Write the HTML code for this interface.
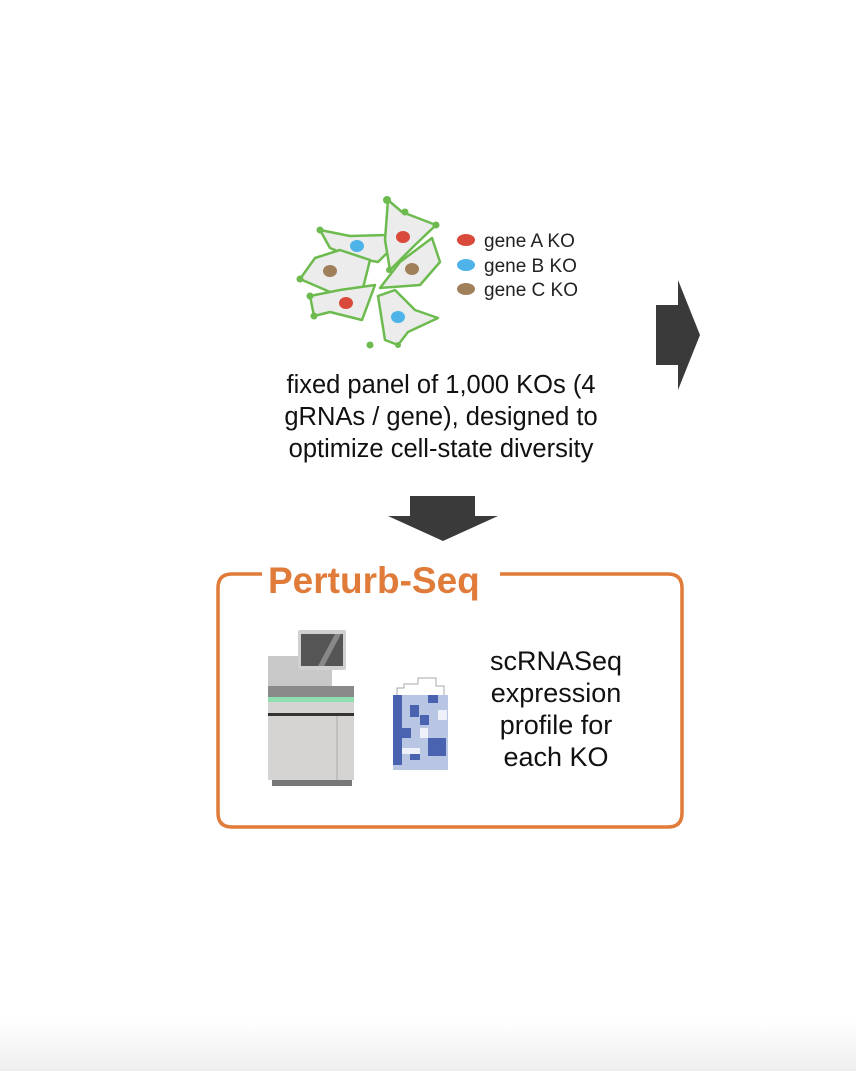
<!DOCTYPE html>
<html><head><meta charset="utf-8"><style>
body{margin:0;background:#fff;}
svg{display:block;}
text{font-family:"Liberation Sans",sans-serif;}
</style></head><body>
<svg width="856" height="1071" viewBox="0 0 856 1071" xmlns="http://www.w3.org/2000/svg">
<defs><linearGradient id="bg" x1="0" y1="0" x2="0" y2="1"><stop offset="0" stop-color="#fff"/><stop offset="1" stop-color="#eeeeee"/></linearGradient></defs>
<rect x="0" y="1020" width="856" height="51" fill="url(#bg)"/>
<!-- cells -->
<g stroke="#6dbb4f" stroke-width="2.5" fill="#ececec" stroke-linejoin="round">
<path d="M320 230 L350 236 L385 235 L392 222 L388 252 L378 262 L355 258 L330 248 Z"/>
<path d="M388 200 L402 212 L436 225 L415 245 L398 262 L390 270 L385 240 Z"/>
<path d="M300 279 L315 258 L340 250 L370 260 L362 292 L330 292 Z"/>
<path d="M432 238 L440 262 L420 285 L380 288 L400 262 Z"/>
<path d="M310 296 L340 290 L375 285 L362 320 L330 312 L314 316 Z"/>
<path d="M378 296 L395 290 L415 310 L438 318 L408 332 L398 345 L385 340 Z"/>
</g>
<g fill="#6dbb4f">
<circle cx="387" cy="200" r="4"/><circle cx="405" cy="212" r="3.5"/><circle cx="436" cy="225" r="3.5"/>
<circle cx="320" cy="230" r="3.5"/><circle cx="300" cy="279" r="3.5"/><circle cx="310" cy="296" r="3.5"/>
<circle cx="314" cy="316" r="3.5"/><circle cx="370" cy="345" r="3.5"/><circle cx="398" cy="345" r="3"/>
<circle cx="389" cy="270" r="3"/>
</g>
<ellipse cx="403" cy="237" rx="7" ry="6" fill="#d94a3a"/>
<ellipse cx="357" cy="246" rx="7" ry="6" fill="#4db3e8"/>
<ellipse cx="330" cy="271" rx="7" ry="6" fill="#a0805a"/>
<ellipse cx="412" cy="269" rx="7" ry="6" fill="#a0805a"/>
<ellipse cx="346" cy="303" rx="7" ry="6" fill="#d94a3a"/>
<ellipse cx="398" cy="317" rx="7" ry="6" fill="#4db3e8"/>
<ellipse cx="466" cy="240" rx="9" ry="6" fill="#d94a3a"/>
<ellipse cx="466" cy="265" rx="9" ry="6" fill="#4db3e8"/>
<ellipse cx="466" cy="289" rx="9" ry="6" fill="#a0805a"/>
<g font-size="19" fill="#222">
<text x="484" y="247">gene A KO</text>
<text x="484" y="272">gene B KO</text>
<text x="484" y="296">gene C KO</text>
</g>
<g font-size="25.5" fill="#111" text-anchor="middle">
<text x="441" y="393">fixed panel of 1,000 KOs (4</text>
<text x="441" y="425">gRNAs / gene), designed to</text>
<text x="441" y="457">optimize cell-state diversity</text>
</g>
<!-- right arrow -->
<path d="M656 305 L678 305 L678 280 L700 335 L678 390 L678 365 L656 365 Z" fill="#3a3a3a"/>
<!-- down arrow -->
<path d="M410 496 L475 496 L475 516 L498 516 L443 541 L388 516 L410 516 Z" fill="#3a3a3a"/>
<!-- box -->
<path d="M262 574 L232 574 Q218 574 218 588 L218 813 Q218 827 232 827 L668 827 Q682 827 682 813 L682 588 Q682 574 668 574 L500 574" fill="none" stroke="#e07b39" stroke-width="3.5"/>
<text x="268" y="593" font-size="37" font-weight="bold" fill="#e07b39">Perturb-Seq</text>
<!-- machine -->
<rect x="268" y="656" width="64" height="40" fill="#c8c8c8"/>
<rect x="298" y="630" width="48" height="40" rx="2" fill="#d0d0d0"/>
<rect x="301" y="634" width="42" height="32" fill="#555"/>
<path d="M318 666 L335 634 L341 634 L324 666Z" fill="#888"/>
<rect x="268" y="686" width="86" height="12" fill="#8a8a8a"/>
<rect x="268" y="697" width="86" height="5" fill="#8fe0b0"/>
<rect x="268" y="702" width="86" height="78" fill="#d6d4d2"/>
<rect x="268" y="713" width="86" height="3" fill="#333"/>
<line x1="337" y1="716" x2="337" y2="780" stroke="#aaa"/>
<rect x="272" y="780" width="80" height="6" fill="#777"/>
<!-- heatmap -->
<rect x="393" y="695" width="55" height="75" fill="#b9c6e3"/>
<g fill="#4a63b0">
<rect x="393" y="695" width="9" height="70"/><rect x="410" y="705" width="9" height="12"/><rect x="428" y="695" width="10" height="8"/>
<rect x="420" y="715" width="9" height="10"/><rect x="402" y="728" width="9" height="10"/><rect x="428" y="738" width="18" height="18"/><rect x="410" y="750" width="10" height="10"/></g>
<g fill="#eef1f9"><rect x="420" y="728" width="8" height="10"/><rect x="402" y="748" width="18" height="6"/><rect x="438" y="710" width="9" height="10"/></g>
<path d="M397 695 V688 H404 V684 H418 V678 H436 V686 H444 V695" fill="none" stroke="#aaa" stroke-width="1"/>
<g font-size="27" fill="#111" text-anchor="middle">
<text x="556" y="670">scRNASeq</text>
<text x="556" y="702">expression</text>
<text x="556" y="734">profile for</text>
<text x="556" y="766">each KO</text>
</g>
</svg>
</body></html>
